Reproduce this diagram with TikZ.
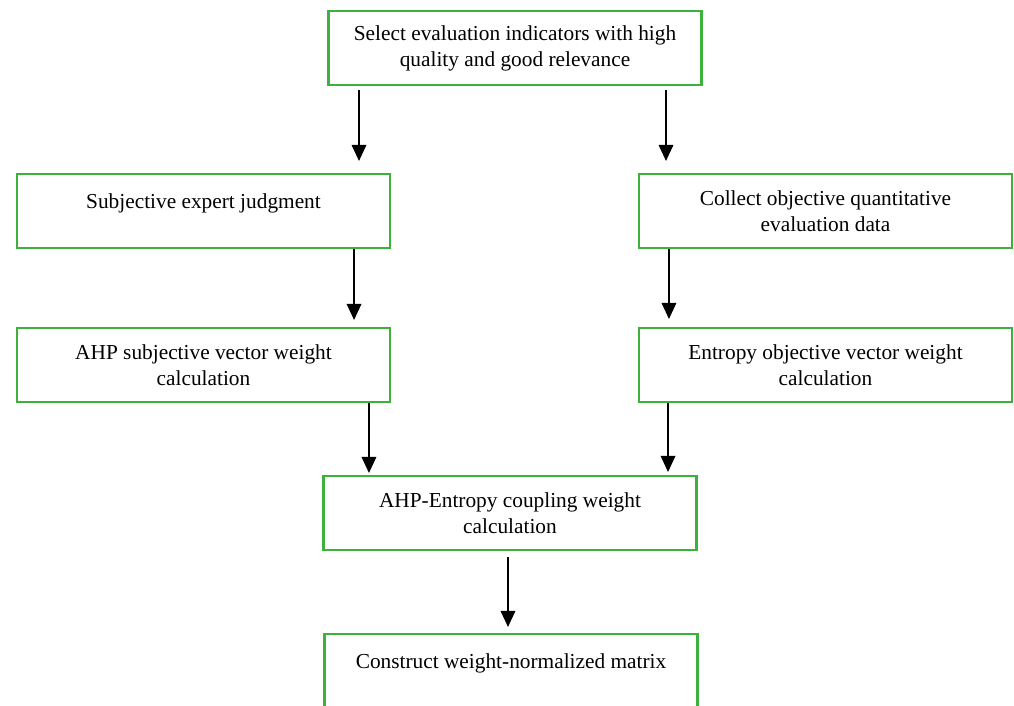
\documentclass[tikz,border=0pt]{standalone}
\usepackage{fontspec}
\setmainfont{Liberation Serif}
\usetikzlibrary{arrows.meta}
\definecolor{boxgreen}{RGB}{60,178,60}
\begin{document}
\begin{tikzpicture}[x=0.75pt,y=-0.75pt,
  box/.style={draw=boxgreen, line width=1.6pt, minimum width=279.75pt, minimum height=55.5pt,
    inner sep=0pt, align=center, font=\fontsize{16}{19.5}\selectfont},
  oneline/.style={text height=12pt, text depth=15.5pt},
  arr/.style={-{Triangle[width=11pt,length=12pt]}, line width=0.9pt, black}]
\useasboundingbox (0,0) rectangle (1014,706);
\clip (0,0) rectangle (1014,706);
\node[box] (top) at (515,48) {Select evaluation indicators with high\\quality and good relevance};
\node[box,oneline] (l1) at (203.5,211) {Subjective expert judgment};
\node[box] (r1) at (825.5,211) {Collect objective quantitative\\evaluation data};
\node[box] (l2) at (203.5,365) {AHP subjective vector weight\\calculation};
\node[box] (r2) at (825.5,365) {Entropy objective vector weight\\calculation};
\node[box] (mid) at (510,513) {AHP-Entropy coupling weight\\calculation};
\node[box,oneline] (bot) at (511,671) {Construct weight-normalized matrix};
\draw[arr, shorten <=3pt, shorten >=9pt] ([xshift=-117pt]top.south) coordinate (a1) -- (a1 |- l1.north);
\draw[arr, shorten <=3pt, shorten >=9pt] ([xshift=113.25pt]top.south) coordinate (a2) -- (a2 |- r1.north);
\draw[arr, shorten >=5.25pt] ([xshift=112.9pt]l1.south) coordinate (a3) -- (a3 |- l2.north);
\draw[arr, shorten >=6pt] ([xshift=-117.4pt]r1.south) coordinate (a4) -- (a4 |- r2.north);
\draw[arr, shorten >=1.5pt] ([xshift=124.1pt]l2.south) coordinate (a5) -- (a5 |- mid.north);
\draw[arr, shorten >=2.25pt] ([xshift=-118.1pt]r2.south) coordinate (a6) -- (a6 |- mid.north);
\draw[arr, shorten <=4.5pt, shorten >=4.5pt] ([xshift=-1.5pt]mid.south) coordinate (a7) -- (a7 |- bot.north);
\end{tikzpicture}
\end{document}
